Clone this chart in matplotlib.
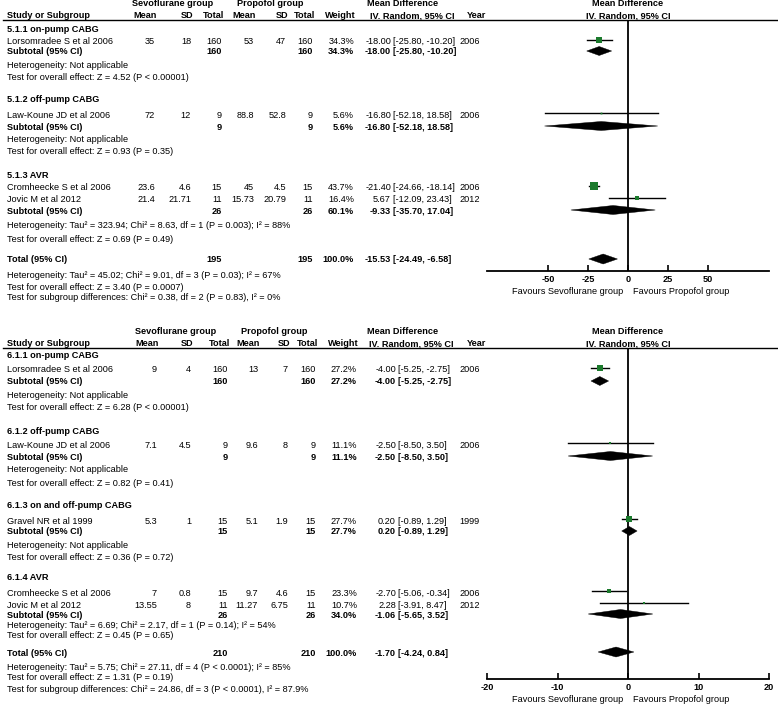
import matplotlib
matplotlib.use('Agg')
import matplotlib.pyplot as plt
from matplotlib.patches import Polygon

plt.rcParams['font.family'] = ['Liberation Sans', 'DejaVu Sans']
plt.rcParams['axes.unicode_minus'] = False

W, H = 778, 712
FS = 6.6
GREEN = '#1b7a2c'

# ---------------- Data: outcome 5.1 ----------------
p1_groups = ["5.1.1 on-pump CABG", "5.1.2 off-pump CABG", "5.1.3 AVR"]
p1_studies = ["Lorsomradee S et al 2006", "Law-Koune JD et al 2006",
              "Cromheecke S et al 2006", "Jovic M et al 2012"]
p1_study_group = [0, 1, 2, 2]
p1_sevo_mean = ["35", "72", "23.6", "21.4"]
p1_sevo_sd = ["18", "12", "4.6", "21.71"]
p1_sevo_n = ["160", "9", "15", "11"]
p1_prop_mean = ["53", "88.8", "45", "15.73"]
p1_prop_sd = ["47", "52.8", "4.5", "20.79"]
p1_prop_n = ["160", "9", "15", "11"]
p1_weight = [34.3, 5.6, 43.7, 16.4]
p1_md = [-18.00, -16.80, -21.40, 5.67]
p1_lo = [-25.80, -52.18, -24.66, -12.09]
p1_hi = [-10.20, 18.58, -18.14, 23.43]
p1_year = ["2006", "2006", "2006", "2012"]
p1_sub_n_sevo = ["160", "9", "26"]
p1_sub_n_prop = ["160", "9", "26"]
p1_sub_weight = [34.3, 5.6, 60.1]
p1_sub_md = [-18.00, -16.80, -9.33]
p1_sub_lo = [-25.80, -52.18, -35.70]
p1_sub_hi = [-10.20, 18.58, 17.04]
p1_sub_het = ["Heterogeneity: Not applicable",
              "Heterogeneity: Not applicable",
              "Heterogeneity: Tau² = 323.94; Chi² = 8.63, df = 1 (P = 0.003); I² = 88%"]
p1_sub_z = ["Test for overall effect: Z = 4.52 (P < 0.00001)",
            "Test for overall effect: Z = 0.93 (P = 0.35)",
            "Test for overall effect: Z = 0.69 (P = 0.49)"]
p1_tot_n = ["195", "195"]
p1_tot_md = [-15.53, -24.49, -6.58]
p1_tot_lines = ["Heterogeneity: Tau² = 45.02; Chi² = 9.01, df = 3 (P = 0.03); I² = 67%",
                "Test for overall effect: Z = 3.40 (P = 0.0007)",
                "Test for subgroup differences: Chi² = 0.38, df = 2 (P = 0.83), I² = 0%"]
p1_ticks = [-50, -25, 0, 25, 50]
p1_tick_labels = ["-50", "-25", "0", "25", "50"]

# ---------------- Data: outcome 6.1 ----------------
p2_groups = ["6.1.1 on-pump CABG", "6.1.2 off-pump CABG",
             "6.1.3 on and off-pump CABG", "6.1.4 AVR"]
p2_studies = ["Lorsomradee S et al 2006", "Law-Koune JD et al 2006",
              "Gravel NR et al 1999", "Cromheecke S et al 2006", "Jovic M et al 2012"]
p2_study_group = [0, 1, 2, 3, 3]
p2_sevo_mean = ["9", "7.1", "5.3", "7", "13.55"]
p2_sevo_sd = ["4", "4.5", "1", "0.8", "8"]
p2_sevo_n = ["160", "9", "15", "15", "11"]
p2_prop_mean = ["13", "9.6", "5.1", "9.7", "11.27"]
p2_prop_sd = ["7", "8", "1.9", "4.6", "6.75"]
p2_prop_n = ["160", "9", "15", "15", "11"]
p2_weight = [27.2, 11.1, 27.7, 23.3, 10.7]
p2_md = [-4.00, -2.50, 0.20, -2.70, 2.28]
p2_lo = [-5.25, -8.50, -0.89, -5.06, -3.91]
p2_hi = [-2.75, 3.50, 1.29, -0.34, 8.47]
p2_year = ["2006", "2006", "1999", "2006", "2012"]
p2_sub_n_sevo = ["160", "9", "15", "26"]
p2_sub_n_prop = ["160", "9", "15", "26"]
p2_sub_weight = [27.2, 11.1, 27.7, 34.0]
p2_sub_md = [-4.00, -2.50, 0.20, -1.06]
p2_sub_lo = [-5.25, -8.50, -0.89, -5.65]
p2_sub_hi = [-2.75, 3.50, 1.29, 3.52]
p2_sub_het = ["Heterogeneity: Not applicable",
              "Heterogeneity: Not applicable",
              "Heterogeneity: Not applicable",
              "Heterogeneity: Tau² = 6.69; Chi² = 2.17, df = 1 (P = 0.14); I² = 54%"]
p2_sub_z = ["Test for overall effect: Z = 6.28 (P < 0.00001)",
            "Test for overall effect: Z = 0.82 (P = 0.41)",
            "Test for overall effect: Z = 0.36 (P = 0.72)",
            "Test for overall effect: Z = 0.45 (P = 0.65)"]
p2_tot_n = ["210", "210"]
p2_tot_md = [-1.70, -4.24, 0.84]
p2_tot_lines = ["Heterogeneity: Tau² = 5.75; Chi² = 27.11, df = 4 (P < 0.0001); I² = 85%",
                "Test for overall effect: Z = 1.31 (P = 0.19)",
                "Test for subgroup differences: Chi² = 24.86, df = 3 (P < 0.0001), I² = 87.9%"]
p2_ticks = [-20, -10, 0, 10, 20]
p2_tick_labels = ["-20", "-10", "0", "10", "20"]

P1 = dict(groups=p1_groups, studies=p1_studies, sg=p1_study_group,
          sm=p1_sevo_mean, ssd=p1_sevo_sd, sn=p1_sevo_n,
          pm=p1_prop_mean, psd=p1_prop_sd, pn=p1_prop_n,
          w=p1_weight, md=p1_md, lo=p1_lo, hi=p1_hi, year=p1_year,
          sub_ns=p1_sub_n_sevo, sub_np=p1_sub_n_prop, sub_w=p1_sub_weight,
          sub_md=p1_sub_md, sub_lo=p1_sub_lo, sub_hi=p1_sub_hi,
          sub_het=p1_sub_het, sub_z=p1_sub_z,
          tot_n=p1_tot_n, tot_md=p1_tot_md, tot_lines=p1_tot_lines,
          ticks=p1_ticks, tick_labels=p1_tick_labels)
P2 = dict(groups=p2_groups, studies=p2_studies, sg=p2_study_group,
          sm=p2_sevo_mean, ssd=p2_sevo_sd, sn=p2_sevo_n,
          pm=p2_prop_mean, psd=p2_prop_sd, pn=p2_prop_n,
          w=p2_weight, md=p2_md, lo=p2_lo, hi=p2_hi, year=p2_year,
          sub_ns=p2_sub_n_sevo, sub_np=p2_sub_n_prop, sub_w=p2_sub_weight,
          sub_md=p2_sub_md, sub_lo=p2_sub_lo, sub_hi=p2_sub_hi,
          sub_het=p2_sub_het, sub_z=p2_sub_z,
          tot_n=p2_tot_n, tot_md=p2_tot_md, tot_lines=p2_tot_lines,
          ticks=p2_ticks, tick_labels=p2_tick_labels)

# ---------------- Layout (pixels) ----------------
L1 = dict(hdr1=4, hdr2=16, line=20,
          rows=[29, 42, 52, 66, 78, 100, 115, 127, 139, 151,
                175, 188, 200, 211, 226, 239, 260, 275, 287, 298],
          cols=dict(sm=155, ssd=191, sn=222, pm=254, psd=286, pn=313, w=354),
          est=391, ci=393, year=459, mdhdr=367, ivhdr=370, yearhdr=467,
          sevo_c=173, prop_c=270,
          ftop=0, fbot=305, xlim=(-88.125, 88.125), axis_y=271, fav_y=291)
L2 = dict(hdr1=332, hdr2=344, line=348,
          rows=[356, 370, 382, 395, 408, 431, 445, 457, 470, 483,
                506, 521, 532, 545, 557, 578, 593, 605, 615, 625, 636,
                653, 667, 678, 689],
          cols=dict(sm=157, ssd=191, sn=228, pm=258, psd=288, pn=316, w=357),
          est=396, ci=398, year=459, mdhdr=367, ivhdr=369, yearhdr=467,
          sevo_c=176, prop_c=274,
          ftop=320, fbot=712, xlim=(-20, 20), axis_y=679, fav_y=700)

FX0, FX1, ZX = 487, 769, 628

fig = plt.figure(figsize=(W / 100, H / 100), dpi=100)
fig.patch.set_facecolor('white')
axt = fig.add_axes([0, 0, 1, 1])
axt.set_xlim(0, W)
axt.set_ylim(H, 0)
axt.axis('off')


def txt(x, y, s, ha='left', bold=False):
    axt.text(x, y, s, ha=ha, va='center', fontsize=FS,
             fontweight='bold' if bold else 'normal', color='black')


def fmt_ci(lo, hi):
    return "[%.2f, %.2f]" % (lo, hi)


def draw_panel(P, L):
    c = L['cols']
    axf = fig.add_axes([FX0 / W, 1 - L['fbot'] / H, (FX1 - FX0) / W,
                        (L['fbot'] - L['ftop']) / H])
    axf.set_xlim(*L['xlim'])
    axf.set_ylim(L['fbot'], L['ftop'])
    axf.patch.set_visible(False)
    for s in ['top', 'left', 'right']:
        axf.spines[s].set_visible(False)
    axf.spines['bottom'].set_position(('data', L['axis_y']))
    axf.spines['bottom'].set_linewidth(1.3)
    axf.set_yticks([])
    axf.set_xticks(P['ticks'])
    axf.set_xticklabels(P['tick_labels'])
    axf.tick_params(axis='x', direction='in', length=4, width=1.2, pad=3,
                    labelsize=FS)
    for lab in axf.get_xticklabels():
        lab.set_fontweight('bold')
    axf.vlines(0, L['line'], L['axis_y'], color='black', lw=1.3)

    def diamond(md, lo, hi, y, h=9):
        axf.add_patch(Polygon([(lo, y), (md, y - h / 2), (hi, y), (md, y + h / 2)],
                              closed=True, facecolor='black', edgecolor='black', lw=0.3))

    # headers
    txt(L['sevo_c'], L['hdr1'], "Sevoflurane group", ha='center', bold=True)
    txt(L['prop_c'], L['hdr1'], "Propofol group", ha='center', bold=True)
    txt(L['mdhdr'], L['hdr1'], "Mean Difference", bold=True)
    txt(ZX, L['hdr1'], "Mean Difference", ha='center', bold=True)
    txt(7, L['hdr2'], "Study or Subgroup", bold=True)
    for key, lab in [('sm', 'Mean'), ('ssd', 'SD'), ('sn', 'Total'),
                     ('pm', 'Mean'), ('psd', 'SD'), ('pn', 'Total'), ('w', 'Weight')]:
        txt(c[key] + 2, L['hdr2'], lab, ha='right', bold=True)
    txt(L['ivhdr'], L['hdr2'], "IV. Random, 95% CI", bold=True)
    txt(L['yearhdr'], L['hdr2'], "Year", bold=True)
    txt(ZX, L['hdr2'], "IV. Random, 95% CI", ha='center', bold=True)
    axt.plot([3, W], [L['line'], L['line']], color='black', lw=1.0)

    rows = L['rows']
    i = 0
    for g, gname in enumerate(P['groups']):
        txt(7, rows[i], gname, bold=True)
        i += 1
        for k, sname in enumerate(P['studies']):
            if P['sg'][k] != g:
                continue
            y = rows[i]
            txt(7, y, sname)
            for key in ['sm', 'ssd', 'sn', 'pm', 'psd', 'pn']:
                txt(c[key], y, P[key][k], ha='right')
            txt(c['w'], y, "%.1f%%" % P['w'][k], ha='right')
            txt(L['est'], y, "%.2f" % P['md'][k], ha='right')
            txt(L['ci'], y, fmt_ci(P['lo'][k], P['hi'][k]))
            txt(L['year'], y, P['year'][k])
            ym = y - 2
            axf.plot([P['lo'][k], P['hi'][k]], [ym, ym], color='black', lw=1.0)
            side = max(1.8, 0.2 * P['w'][k]) * 0.72
            axf.plot([P['md'][k]], [ym], marker='s', ms=side, color=GREEN,
                     mec=GREEN, mew=0, zorder=3)
            i += 1
        y = rows[i]
        txt(7, y, "Subtotal (95% CI)", bold=True)
        txt(c['sn'], y, P['sub_ns'][g], ha='right', bold=True)
        txt(c['pn'], y, P['sub_np'][g], ha='right', bold=True)
        txt(c['w'], y, "%.1f%%" % P['sub_w'][g], ha='right', bold=True)
        txt(L['est'], y, "%.2f" % P['sub_md'][g], ha='right', bold=True)
        txt(L['ci'], y, fmt_ci(P['sub_lo'][g], P['sub_hi'][g]), bold=True)
        diamond(P['sub_md'][g], P['sub_lo'][g], P['sub_hi'][g], y - 1)
        i += 1
        txt(7, rows[i], P['sub_het'][g])
        i += 1
        txt(7, rows[i], P['sub_z'][g])
        i += 1
    y = rows[i]
    txt(7, y, "Total (95% CI)", bold=True)
    txt(c['sn'], y, P['tot_n'][0], ha='right', bold=True)
    txt(c['pn'], y, P['tot_n'][1], ha='right', bold=True)
    txt(c['w'], y, "100.0%", ha='right', bold=True)
    md, lo, hi = P['tot_md']
    txt(L['est'], y, "%.2f" % md, ha='right', bold=True)
    txt(L['ci'], y, fmt_ci(lo, hi), bold=True)
    diamond(md, lo, hi, y - 1, h=10)
    i += 1
    for line in P['tot_lines']:
        txt(7, rows[i], line)
        i += 1
    txt(ZX - 5, L['fav_y'], "Favours Sevoflurane group", ha='right')
    txt(ZX + 5, L['fav_y'], "Favours Propofol group", ha='left')


draw_panel(P1, L1)
draw_panel(P2, L2)

fig.savefig('out.png', dpi=100, facecolor='white')
